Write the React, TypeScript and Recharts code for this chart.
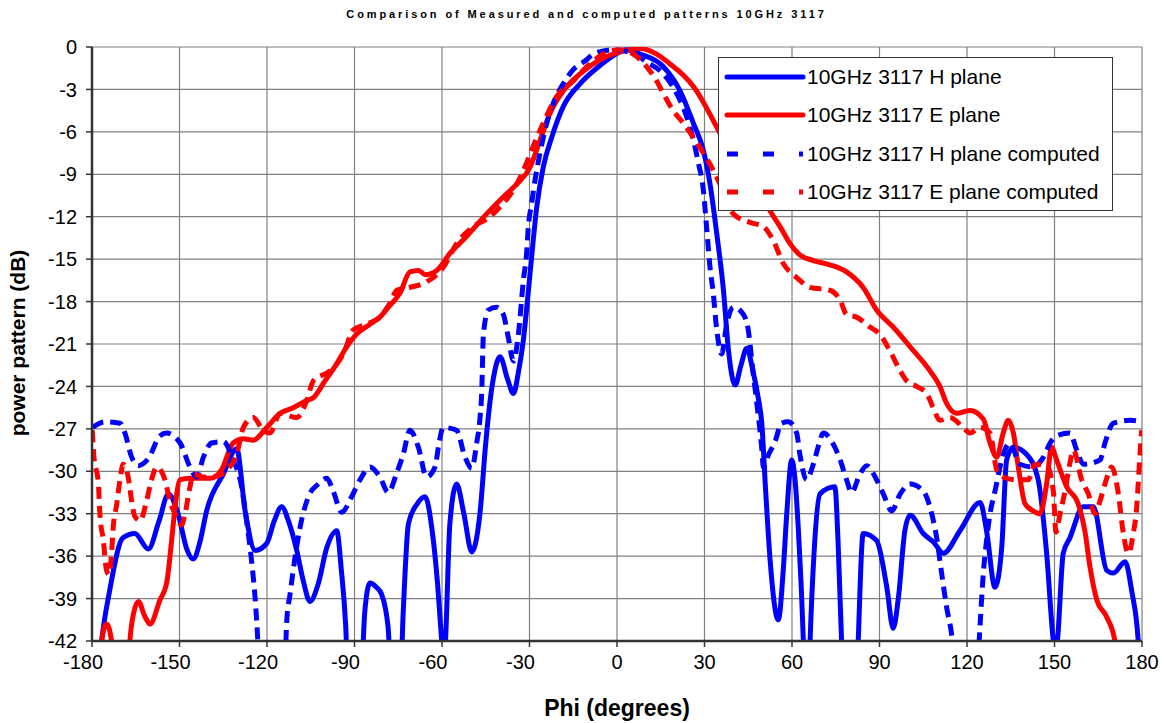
import React from "react";
import { LineChart, Line, XAxis, YAxis, CartesianGrid } from "recharts";

// ─── data (phi in degrees, level in dB) ────────────────────────────────────

const hPlanePhi = [
  -178.5, -176.7, -174, -169.4, -165.3, -160.7, -157, -153.8, -150.5, -147.5, -145.3, -143, -140.7, -135,
  -130.4, -127.5, -124, -120.1, -117.5, -115, -112.5, -109.8, -107.5, -105.3, -102.5, -99.5, -96.1, -94.5,
  -93, -92, -88, -86.5, -84.7, -82.5, -80.7, -78.5, -77, -74.5, -73.3, -71.5, -68.5, -65.8, -63.5, -61.5,
  -60.1, -59.5, -58.8, -57.3, -55, -52.5, -49.8, -47, -45, -43.5, -42, -40.1, -37.5, -35.5, -33.8, -32.1,
  -30.5, -29.3, -27.5, -25.3, -22.4, -18.4, -12.7, -5.8, 1, 3, 7.9, 15.9, 21.6, 26.2, 29.6, 31.9, 34.2,
  36.5, 38.2, 40.5, 42.5, 44.5, 46.5, 48.5, 49.6, 51, 52.5, 55.3, 57, 58.2, 59.9, 61, 62.2, 63.9, 64.5,
  65.6, 66.2, 67.5, 69.6, 74.7, 75.8, 77, 77.5, 82, 82.7, 84.4, 89, 92.5, 94.7, 96.5, 98.7, 100.5, 105,
  108.5, 111.9, 117.6, 124.5, 126.7, 129.6, 131.9, 133.6, 135.9, 140.4, 144.4, 147.3, 149.6, 150.3, 151,
  153, 155.3, 159.9, 163.3, 167.9, 170.2, 174.2, 176.5, 178.7, 179.5,
];
const hPlaneDb = [
  -46, -42, -38.5, -34.7, -34.4, -35.5, -33.5, -31.6, -33, -35.5, -36.2, -35, -32.8, -30.2,
  -28.4, -32.8, -35.6, -35.1, -33.5, -32.5, -33.6, -35.6, -37.8, -39.2, -38, -35.4, -34.2, -37,
  -41, -46, -46, -40, -37.9, -38.2, -38.7, -41, -46, -46, -40, -33.7, -32.3, -31.8, -34, -38,
  -42, -44, -42, -33.7, -30.9, -33, -35.7, -33, -28, -25, -23, -21.9, -23.5, -24.5, -23, -20.7,
  -17.5, -14.9, -11.3, -8.5, -6.4, -4.2, -2.6, -1.3, -0.35, -0.2, -0.5, -1.4, -3.1, -5.4, -7.3, -9.7, -13.2,
  -17.2, -21.4, -23.9, -22.5, -21.3, -22.8, -24.9, -26.5, -31.5, -36.3, -40.5, -37, -33, -29.2, -30.5, -34.2, -42, -46,
  -46, -42, -36, -31.6, -31.1, -35, -42, -46, -46, -42, -34.4, -34.9, -38.2, -41.1, -38.9, -34.2, -33.1, -34.4,
  -35, -35.8, -34.2, -32.2, -34.2, -38.2, -35.4, -29.2, -28.3, -28.8, -30.6, -35.8, -42, -43, -42,
  -35.8, -34.7, -32.5, -32.5, -37, -37.2, -36.4, -38.5, -42, -46,
];

const ePlanePhi = [
  -178, -176.7, -175, -173.3, -172, -168, -167, -165.8, -164.1, -162, -160.1, -156.7, -154.4, -152.7,
  -151.5, -149.8, -146.4, -139.5, -135.6, -131.6, -128.1, -124.7, -120.1, -115.5, -111, -106.4, -104.1,
  -100.1, -96.1, -92.7, -89.3, -84.7, -81.3, -78.4, -74.4, -71, -68, -65.8, -61.8, -57.3, -51.6, -44.7,
  -39, -34.4, -29.8, -26.4, -23, -18.4, -12.7, -5.8, 1, 7.9, 13.6, 18.2, 22.8, 26.2, 29.6, 33, 35.3, 40,
  45, 50, 52.5, 55.9, 59.3, 62.7, 67.3, 73, 78.7, 84.4, 89, 94.7, 100.5, 107.3, 110.7, 113, 116.5, 121,
  125.6, 127.9, 130.2, 132.4, 134.2, 135.9, 137.6, 139.9, 142.7, 145, 147.3, 149, 150.7, 154.2, 158.1,
  160.4, 162.2, 164.5, 167.9, 170.7, 172,
];
const ePlaneDb = [
  -46, -42, -40.8, -42, -46, -46, -42, -40.1, -39.2, -40.2, -40.8, -39.1, -37.9, -34.9,
  -32.5, -30.6, -30.5, -30.5, -29.9, -28, -27.7, -27.8, -26.9, -25.9, -25.5, -25, -24.8,
  -23.6, -22.4, -21.2, -20.3, -19.6, -19.1, -18.4, -17.4, -15.9, -15.8, -16.1, -15.8, -14.6, -13.4, -11.8,
  -10.6, -9.7, -8.5, -6.6, -4.7, -3.1, -1.9, -0.9, -0.35, -0.1, -0.5, -1.2, -2, -2.8, -3.9, -5.2, -6.1, -7.6,
  -9.1, -10.7, -11.6, -12.7, -13.9, -14.7, -15.1, -15.4, -15.9, -17, -18.6, -19.8, -21.2, -22.9, -24, -25.2, -25.9, -25.7,
  -26.3, -28, -29, -27.3, -26.4, -27.3, -29.7, -32.3, -32.8, -33, -30.9, -28.3, -29.2, -31.1, -32.3,
  -34.2, -36.8, -39.1, -40.3, -42, -46,
];

const hComputedPhi = [
  -179.8, -175.4, -170.4, -168.7, -166.4, -164.1, -160.7, -156.7, -154.4, -149.8, -146.4, -144.1, -141.8,
  -139, -135, -131.6, -128.7, -127, -125.2, -124.1, -123.5, -122.5, -118, -114, -113.2, -112.1, -110.4,
  -108.7, -105.8, -102.4, -99.5, -97.3, -94.4, -91, -88.1, -84.7, -81.3, -78.4, -75.5, -73.3, -71, -68.1,
  -65.3, -62.4, -61, -59.6, -55, -52.1, -49.8, -48.1, -47, -46.4, -45.8, -44.1, -41.3, -39, -37.3, -35.5,
  -33.8, -32.1, -31, -30.4, -29.3, -28.1, -26.4, -24.1, -21.9, -19, -15, -10.4, -8.2, -1.3, 4.5, 10.2,
  15.9, 20.5, 23.9, 26.2, 27.9, 29.6, 30.7, 31.9, 33, 34.2, 35.9, 37.6, 39.9, 43.3, 45, 46.7, 48, 49.6,
  50.2, 52, 54.2, 56.4, 58.7, 61.6, 62.7, 65, 67.3, 69.1, 70.7, 74.7, 76.5, 78.7, 80.4, 83.3, 85.6, 89,
  91.3, 94.2, 97.1, 100.5, 105, 107.9, 109.6, 111.3, 113, 114.7, 116, 120, 123.5, 124.5, 125.6, 126.7,
  127.9, 129.6, 131.9, 134.7, 138.2, 142.7, 146.2, 148.5, 150.7, 155.3, 157.6, 159.9, 165.6, 167.3, 170.2,
  175.9, 180,
];
const hComputedDb = [
  -26.9, -26.5, -26.6, -27.3, -29, -29.6, -29.1, -27.5, -27.3, -28, -29.7, -30.4, -29,
  -28, -27.9, -29.2, -31.1, -33.5, -36.5, -38.9, -40.7, -44, -46, -44, -40.5, -38.7, -36.1,
  -34, -31.8, -30.9, -30.5, -31.4, -32.9, -31.8, -30.6, -29.7, -30.4, -31.5, -30.1, -28.8, -27.1, -28.3,
  -30.4, -29.7, -28, -26.9, -27.1, -29, -29.8, -28, -26.3, -24.5, -20.3, -18.6, -18.4, -18.9, -20.5, -22.2,
  -20.3, -16.5, -14.6, -12.7, -11.1, -9.4, -7.5, -5.4, -4, -2.8, -1.6, -0.9, -0.5, -0.2, -0.35, -1.06,
  -1.9, -3.3, -4.95, -6.6, -8.2, -10.1, -12.7, -15.6, -17.4, -20, -21.7, -19.6, -18.4, -18.9, -20, -23.1, -25.3, -28.3,
  -29.7, -28.8, -27.9, -26.6, -26.5, -27.3, -28.8, -30.6, -29.5, -28.2, -27.3, -28.3, -29.2, -30.6, -31.5, -30.2, -29.6, -30.6,
  -31.6, -32.8, -31.6, -30.9, -31.4, -33, -34.7, -37.2, -39.6, -41.5, -44, -46, -44, -40.8, -37.2, -34.9,
  -33, -31.4, -29.2, -28, -29.5, -29.7, -29, -28, -27.5, -27.3, -28.5, -29.5, -29.2, -28, -26.6,
  -26.4, -26.5,
];

const eComputedPhi = [
  -179.9, -179.4, -177.8, -177.3, -176.1, -175, -174.2, -173.3, -172.7, -171.5, -170.4, -169.3, -167.6,
  -166.4, -165.3, -163.5, -161.3, -159.6, -157.8, -155, -153.3, -151, -149.3, -148.1, -146.4, -145.3,
  -141.8, -138.4, -133.8, -130.4, -128.1, -124.7, -121.3, -119, -115.5, -109.8, -106.4, -104.1, -98.4,
  -93.8, -90.4, -85.8, -81.3, -77.8, -75.5, -71, -65.3, -59.6, -55, -49.3, -43.5, -40.1, -35.5, -31,
  -29.3, -25.3, -20.7, -15, -10.4, -4.7, 1, 5.6, 10.2, 13.6, 15.9, 19.3, 22.8, 26.2, 29.6, 33, 35.3,
  39.9, 45.6, 50.2, 53.6, 57, 61.6, 66.2, 73, 76.5, 78.7, 82.1, 86.7, 90.1, 93.6, 97.1, 99.3, 102.7,
  106.2, 108.4, 110.7, 114.1, 118.7, 121, 124.5, 127.9, 130.2, 132.4, 137, 141, 143.3, 147.3, 149.6,
  150.5, 151.9, 153.6, 155.3, 156.5, 159.3, 161.6, 163.9, 165.6, 167.3, 169.6, 171.9, 173.6, 175.3, 177,
  178.2, 178.7, 179.3, 179.9,
];
const eComputedDb = [
  -27.1, -28.8, -30.9, -33, -34.9, -37, -37.3, -35.8, -33.9, -32.3, -30.6, -29.5, -30.4,
  -32.1, -33.2, -33.5, -32.1, -30.6, -29.7, -30.6, -32.1, -33.2, -33.8, -33, -31.1, -30.2,
  -30.4, -30.4, -29.9, -28.8, -26.9, -26.2, -27.1, -27.3, -25.9, -26.2, -25, -23.6, -22.9,
  -21.7, -20, -19.6, -19.1, -18.1, -17.2, -17, -16.6, -15.6, -13.9, -12.7, -12, -11.3, -10.1, -8.2,
  -7.3, -5.4, -3.5, -2.4, -1.4, -0.5, -0.2, -0.5, -1.4, -2.4, -3.3, -4.5, -5.4, -6.4, -7.5, -8.7, -9.7,
  -11.8, -12.4, -12.7, -13.7, -15.3, -16.3, -17, -17.2, -17.9, -18.9, -19.1, -19.8, -20.3, -21.5, -22.9, -23.6, -24,
  -24.5, -25.5, -26.4, -26.2, -26.9, -27.3, -26.9, -27.3, -29.9, -30.4, -30.6, -30.6, -29.5, -29.6, -31.4,
  -34.3, -33, -31.4, -29.4, -28.5, -30.6, -31.6, -33, -32.1, -30.9, -29.7, -31.6, -34.4, -35.8, -34.4,
  -32.5, -30.9, -28.8, -27.1,
];

const xTicks = [-180, -150, -120, -90, -60, -30, 0, 30, 60, 90, 120, 150, 180];
const yTicks = [0, -3, -6, -9, -12, -15, -18, -21, -24, -27, -30, -33, -36, -39, -42];

const title = "Comparison of Measured and computed patterns 10GHz 3117";
const xTitle = "Phi (degrees)";
const yTitle = "power pattern (dB)";

const zip = (phi: number[], db: number[]) => phi.map((p, i) => ({ phi: p, db: db[i] }));

const series = [
  { name: "10GHz 3117 H plane", data: zip(hPlanePhi, hPlaneDb), color: "#0000ff", dashed: false },
  { name: "10GHz 3117 E plane", data: zip(ePlanePhi, ePlaneDb), color: "#ff0000", dashed: false },
  { name: "10GHz 3117 H plane computed", data: zip(hComputedPhi, hComputedDb), color: "#0000ff", dashed: true },
  { name: "10GHz 3117 E plane computed", data: zip(eComputedPhi, eComputedDb), color: "#ff0000", dashed: true },
];

const FONT = "'Liberation Sans', Arial, sans-serif";
const W = 1165;
const H = 723;

// x tick: negative labels sit a bit left of their tick, as in the original
function PhiTick(props: any) {
  const { x, y, payload } = props;
  const v = payload.value as number;
  return (
    <text x={v < 0 ? x - 9 : x} y={y} dy="0.71em" textAnchor="middle" fontSize={20} fontFamily={FONT} fill="#000">
      {v}
    </text>
  );
}

function LegendBox() {
  return (
    <div
      style={{
        position: "absolute",
        left: 718,
        top: 57,
        width: 393,
        height: 152,
        background: "#fff",
        border: "1px solid #333",
        fontFamily: FONT,
        fontSize: 21,
        color: "#000",
      }}
    >
      {series.map((s, i) => (
        <div
          key={s.name}
          style={{ position: "absolute", left: 0, top: 4 + i * 38.3, height: 30, display: "flex", alignItems: "center", whiteSpace: "nowrap" }}
        >
          <svg width={88} height={30}>
            <line
              x1={8}
              x2={84}
              y1={15}
              y2={15}
              stroke={s.color}
              strokeWidth={5}
              strokeLinecap={s.dashed ? "butt" : "round"}
              strokeDasharray={s.dashed ? "11 25" : undefined}
            />
          </svg>
          <span style={{ marginLeft: 0 }}>{s.name}</span>
        </div>
      ))}
    </div>
  );
}

export default function App() {
  return (
    <div style={{ position: "absolute", left: 0, top: 0, width: W, height: H, background: "#fff", fontFamily: FONT }}>
      <div
        style={{
          position: "absolute",
          top: 8,
          left: 0,
          width: W,
          textAlign: "center",
          fontSize: 11,
          fontWeight: "bold",
          letterSpacing: 2.9,
          paddingLeft: 4,
        }}
      >
        {title}
      </div>

      <LineChart width={W} height={H} margin={{ top: 47, right: 23, bottom: 0, left: 0 }}>
        <CartesianGrid stroke="#808080" strokeWidth={1.2} />
        <XAxis
          type="number"
          dataKey="phi"
          domain={[-180, 180]}
          ticks={xTicks}
          allowDataOverflow
          height={82}
          axisLine={{ stroke: "#333", strokeWidth: 2.5 }}
          tickLine={{ stroke: "#333", strokeWidth: 1.5 }}
          tickSize={6}
          tickMargin={8}
          tick={<PhiTick />}
        />
        <YAxis
          type="number"
          domain={[-42, 0]}
          ticks={yTicks}
          allowDataOverflow
          width={92}
          axisLine={{ stroke: "#333", strokeWidth: 2.5 }}
          tickLine={{ stroke: "#333", strokeWidth: 1.5 }}
          tickSize={6}
          tickMargin={9}
          tick={{ fontSize: 20, fill: "#000", fontFamily: FONT }}
        />
        {series.map((s) => (
          <Line
            key={s.name}
            data={s.data}
            dataKey="db"
            name={s.name}
            type="monotone"
            stroke={s.color}
            strokeWidth={5}
            strokeDasharray={s.dashed ? "12 7" : undefined}
            strokeLinejoin="round"
            dot={false}
            activeDot={false}
            isAnimationActive={false}
          />
        ))}
      </LineChart>

      <LegendBox />

      <div
        style={{
          position: "absolute",
          left: 0,
          top: 695,
          width: 1234,
          textAlign: "center",
          fontSize: 23,
          fontWeight: "bold",
        }}
      >
        {xTitle}
      </div>
      <div
        style={{
          position: "absolute",
          left: 18,
          top: 343,
          fontSize: 21,
          fontWeight: "bold",
          whiteSpace: "nowrap",
          transform: "translate(-50%, -50%) rotate(-90deg)",
        }}
      >
        {yTitle}
      </div>
    </div>
  );
}
